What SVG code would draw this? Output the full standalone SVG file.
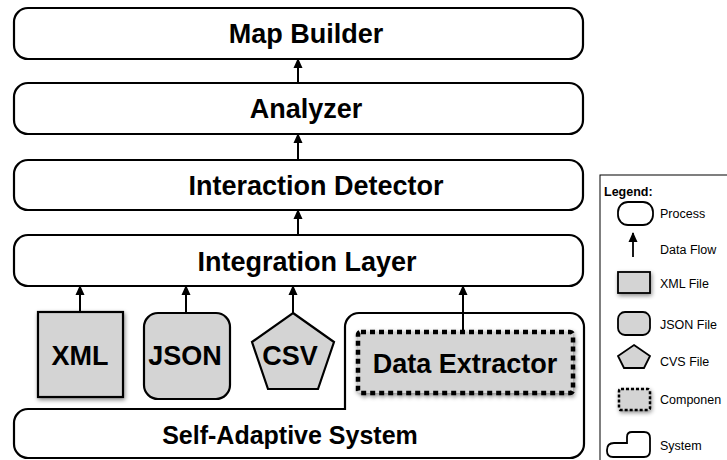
<svg xmlns="http://www.w3.org/2000/svg" width="727" height="460" viewBox="0 0 727 460">
<defs>
<style>
.box{fill:#fff;stroke:#000;stroke-width:2.2}
.file{fill:#d4d4d4;stroke:#000;stroke-width:2.2}
.lbl{font-family:"Liberation Sans",Arial,sans-serif;font-weight:bold;font-size:27px;fill:#000;text-anchor:middle}
.flow{stroke:#000;stroke-width:2;fill:none;marker-end:url(#ah)}
.lg{font-family:"Liberation Sans",Arial,sans-serif;font-size:12.5px;fill:#000}
.lgs{stroke:#000;stroke-width:1.8}
</style>
<marker id="ah" markerUnits="userSpaceOnUse" markerWidth="10" markerHeight="10" viewBox="0 0 10 10" refX="9" refY="5" orient="auto">
<path d="M0,0.5 L10,5 L0,9.5 Z" fill="#000"/>
</marker>
<filter id="sh" x="-20%" y="-20%" width="150%" height="150%">
<feDropShadow dx="1" dy="2" stdDeviation="2" flood-color="#000" flood-opacity="0.45"/>
</filter>
</defs>

<g id="map-builder">
<rect class="box" x="14" y="8" width="569" height="51" rx="14"/>
<text class="lbl" x="306" y="43">Map Builder</text>
</g>
<g id="analyzer">
<rect class="box" x="14" y="83" width="569" height="51" rx="14"/>
<text class="lbl" x="306" y="118">Analyzer</text>
</g>
<g id="interaction-detector">
<rect class="box" x="14" y="160" width="569" height="50" rx="14"/>
<text class="lbl" x="316" y="195">Interaction Detector</text>
</g>
<g id="integration-layer">
<rect class="box" x="14" y="235" width="569" height="51" rx="14"/>
<text class="lbl" x="307" y="271">Integration Layer</text>
</g>

<g id="self-adaptive-system">
<path class="box" d="M14,423 A14,14 0 0 1 28,409 L345,409 L345,327 A14,14 0 0 1 359,313 L570,313 A14,14 0 0 1 584,327 L584,444 A14,14 0 0 1 570,458 L28,458 A14,14 0 0 1 14,444 Z"/>
<text class="lbl" x="290" y="444" style="font-size:25px">Self-Adaptive System</text>
</g>

<g id="xml">
<rect class="file" x="38" y="312" width="85" height="85" filter="url(#sh)"/>
<text class="lbl" x="80" y="365">XML</text>
</g>
<g id="json">
<rect class="file" x="144" y="313" width="86" height="86" rx="14"/>
<text class="lbl" x="185" y="365">JSON</text>
</g>
<g id="csv">
<polygon class="file" points="293,313 334,342 318,389 268,389 252,342"/>
<text class="lbl" x="290" y="365">CSV</text>
</g>
<g id="data-extractor">
<rect x="358" y="332" width="215" height="61" rx="3" fill="#d4d4d4" stroke="#000" stroke-width="4.5" stroke-dasharray="5 4" filter="url(#sh)"/>
<text class="lbl" x="465" y="373">Data Extractor</text>
</g>

<g id="connectors">
<line class="flow" x1="298" y1="83" x2="298" y2="59"/>
<line class="flow" x1="298" y1="160" x2="298" y2="134"/>
<line class="flow" x1="298" y1="235" x2="298" y2="210"/>
<line class="flow" x1="80" y1="312" x2="80" y2="286"/>
<line class="flow" x1="186" y1="313" x2="186" y2="286"/>
<line class="flow" x1="293" y1="313" x2="293" y2="286"/>
<line class="flow" x1="463" y1="332" x2="463" y2="286"/>
</g>

<g id="legend">
<rect x="600" y="175" width="200" height="300" fill="#fff" stroke="#000" stroke-width="1"/>
<text class="lg" x="604" y="196" style="font-weight:bold">Legend:</text>
<rect class="lgs" x="618" y="202" width="35" height="23" rx="10" fill="#fff"/>
<text class="lg" x="660" y="218">Process</text>
<line x1="633" y1="257" x2="633" y2="233" stroke="#000" stroke-width="1.8" marker-end="url(#ah)"/>
<text class="lg" x="660" y="254">Data Flow</text>
<rect class="lgs" x="618" y="272" width="32" height="21" fill="#d4d4d4" filter="url(#sh)"/>
<text class="lg" x="660" y="288">XML File</text>
<rect class="lgs" x="618" y="312" width="32" height="23" rx="7" fill="#d4d4d4"/>
<text class="lg" x="660" y="329">JSON File</text>
<polygon class="lgs" points="634,345 650,356 644,368 624,368 618,356" fill="#d4d4d4"/>
<text class="lg" x="660" y="366">CVS File</text>
<rect x="619" y="389" width="31" height="21" rx="2" fill="#d4d4d4" stroke="#000" stroke-width="2.5" stroke-dasharray="3 2" filter="url(#sh)"/>
<text class="lg" x="660" y="404">Componen</text>
<path class="lgs" fill="#fff" d="M607,450 Q607,443 614,443 L627,443 L627,437 Q627,432 632,432 L644,432 Q650,432 650,438 L650,451 Q650,457 644,457 L613,457 Q607,457 607,451 Z"/>
<text class="lg" x="660" y="450">System</text>
</g>
</svg>
